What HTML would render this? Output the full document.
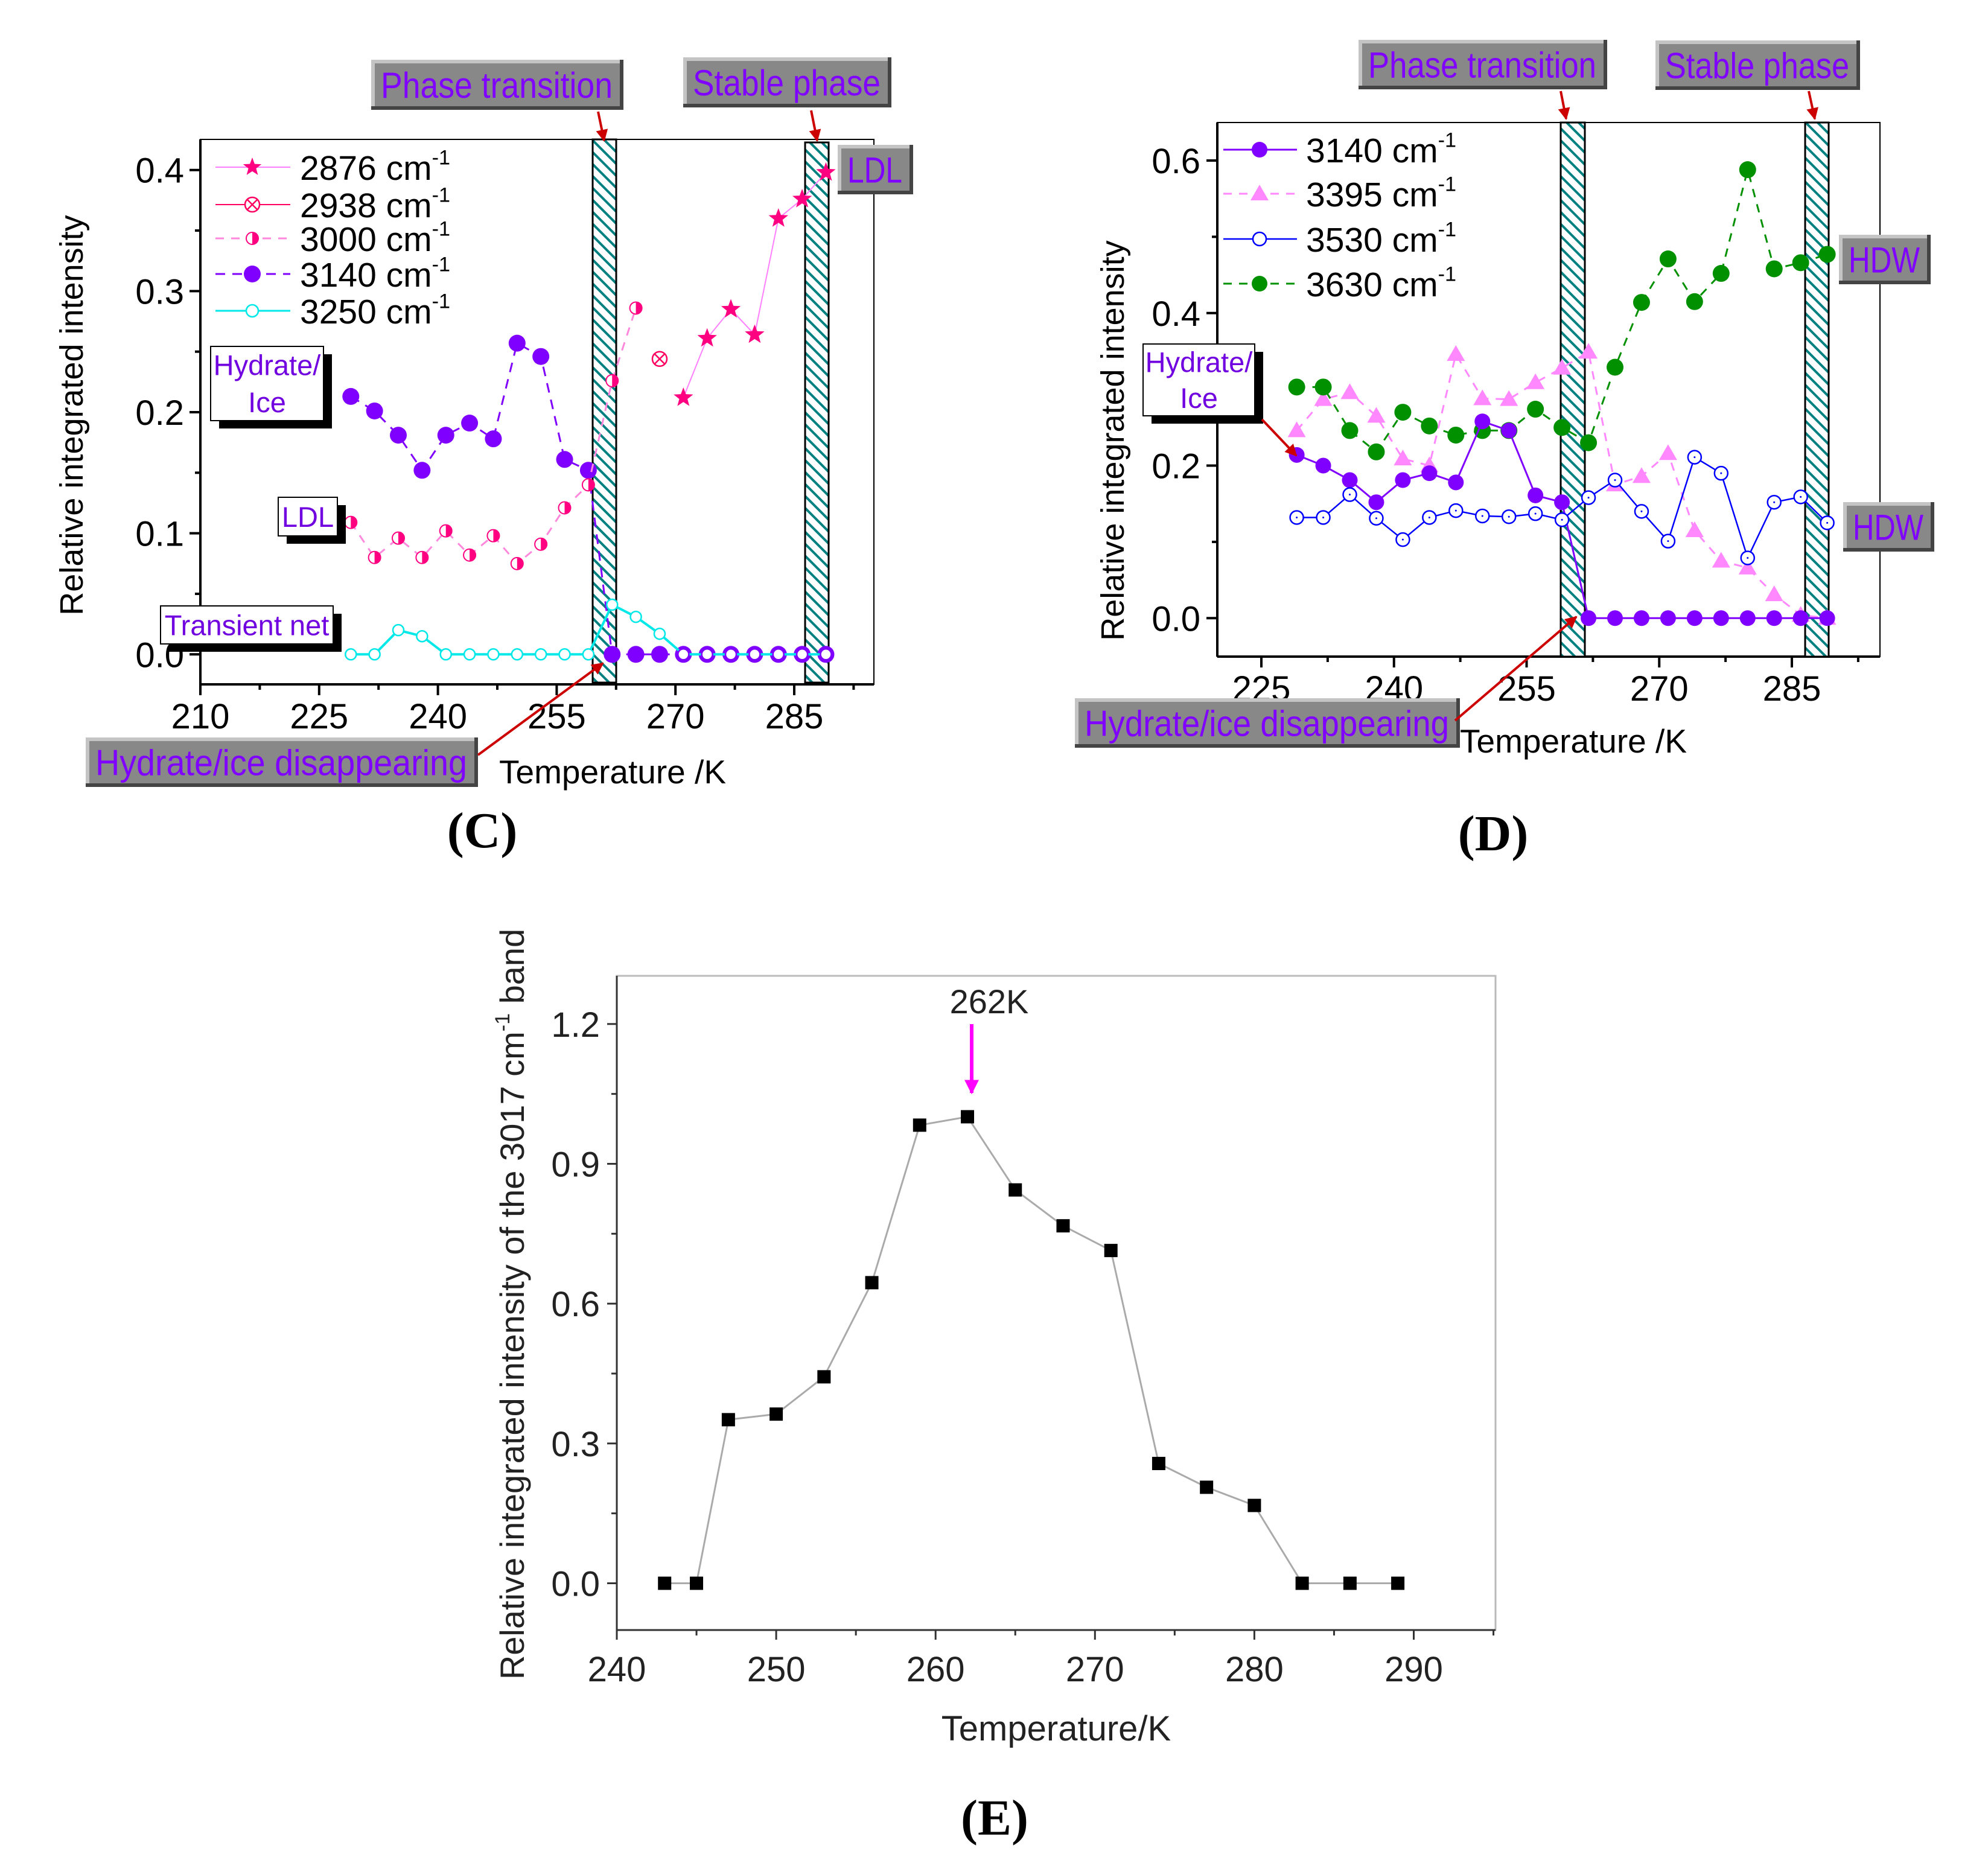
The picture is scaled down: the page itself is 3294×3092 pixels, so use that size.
<!DOCTYPE html>
<html><head><meta charset="utf-8">
<style>
html,body{margin:0;padding:0;background:#fff;}
svg{display:block;font-family:"Liberation Sans",Arial,sans-serif;}
</style></head>
<body>
<svg id="fig" width="3294" height="3092" viewBox="0 0 3294 3092" xmlns="http://www.w3.org/2000/svg">
<defs>
<pattern id="hatch" patternUnits="userSpaceOnUse" width="14" height="14" patternTransform="rotate(45)">
<rect width="14" height="14" fill="#fff"/>
<rect x="0" y="0" width="14" height="4" fill="#008080"/>
</pattern>
<marker id="arr" viewBox="0 0 10 10" refX="9" refY="5" markerWidth="5" markerHeight="5" orient="auto"><path d="M0,0 L10,5 L0,10 z" fill="#cc0000"/></marker>
<marker id="arrm" viewBox="0 0 10 10" refX="9" refY="5" markerWidth="4" markerHeight="4" orient="auto"><path d="M0,0 L10,5 L0,10 z" fill="#ff00ff"/></marker>
</defs>
<g id="panelC"></g>
<g id="panelD"></g>
<g id="panelE"></g>
</svg>
<script>
// ---------- Data ----------
const tempsC = [229,232,235,238,241,244,247,250,253,256,259,262,265,268,271,274,277,280,283,286,289];
const c3140 = [0.213,0.201,0.181,0.152,0.181,0.191,0.178,0.257,0.246,0.161,0.152,0,0,0,0,0,0,0,0,0,0];
const c3000 = [0.109,0.080,0.096,0.080,0.102,0.082,0.098,0.075,0.091,0.121,0.140,0.226,0.286];
const c2938T = [268];
const c2938 = [0.244];
const c2876T = [271,274,277,280,283,286,289];
const c2876 = [0.212,0.261,0.285,0.264,0.360,0.376,0.398];
const c3250 = [0,0,0.020,0.015,0,0,0,0,0,0,0,0.041,0.031,0.017,0,0,0,0,0,0,0];
const tickXC = [210,225,240,255,270,285];
const tickYC = ["0.0","0.1","0.2","0.3","0.4"];

const tempsD = [229,232,235,238,241,244,247,250,253,256,259,262,265,268,271,274,277,280,283,286,289];
const d3140 = [0.214,0.200,0.181,0.152,0.181,0.190,0.178,0.258,0.246,0.161,0.152,0,0,0,0,0,0,0,0,0,0];
const d3395 = [0.246,0.287,0.296,0.265,0.209,0.200,0.346,0.288,0.287,0.309,0.328,0.349,0.175,0.186,0.216,0.115,0.075,0.066,0.031,0.004,0];
const d3530 = [0.132,0.132,0.162,0.131,0.103,0.132,0.141,0.134,0.133,0.137,0.129,0.158,0.181,0.140,0.101,0.211,0.190,0.079,0.152,0.159,0.125];
const d3630 = [0.303,0.303,0.246,0.218,0.270,0.252,0.240,0.246,0.246,0.274,0.250,0.230,0.329,0.414,0.471,0.415,0.452,0.588,0.458,0.466,0.477];
const tickXD = [225,240,255,270,285];
const tickYD = ["0.0","0.2","0.4","0.6"];

const tempsE = [243,245,247,250,253,256,259,262,265,268,271,274,277,280,283,286,289];
const eVals = [0,0,0.351,0.363,0.443,0.645,0.983,1.001,0.844,0.767,0.714,0.257,0.206,0.167,0,0,0];
const tickXE = [240,250,260,270,280,290];
const tickYE = ["0.0","0.3","0.6","0.9","1.2"];

// ---------- helpers ----------
const NS="http://www.w3.org/2000/svg";
function el(parent,tag,attrs,text){const e=document.createElementNS(NS,tag);for(const k in attrs)e.setAttribute(k,attrs[k]);if(text!==undefined)e.textContent=text;parent.appendChild(e);return e;}
function linScale(d0,d1,r0,r1){return v=>r0+(v-d0)*(r1-r0)/(d1-d0);}
function polyline(g,xs,ys,stroke,w,dash){let p=xs.map((x,i)=>x.toFixed(1)+","+ys[i].toFixed(1)).join(" ");const e=el(g,"polyline",{points:p,fill:"none",stroke:stroke,"stroke-width":w});if(dash)e.setAttribute("stroke-dasharray",dash);return e;}
function star(cx,cy,r){let pts=[];for(let i=0;i<10;i++){const a=-Math.PI/2+i*Math.PI/5;const rr=i%2?r*0.42:r;pts.push((cx+rr*Math.cos(a)).toFixed(1)+","+(cy+rr*Math.sin(a)).toFixed(1));}return pts.join(" ");}
function grayBox(g,x0,y0,x1,y1,text,fs,name){
  const b=el(g,"g",{});
  
  
  el(b,"rect",{x:x0,y:y0,width:x1-x0,height:y1-y0,fill:"#444"});
  el(b,"rect",{x:x0,y:y0,width:x1-x0-6,height:y1-y0-6,fill:"#c4c4c4"});
  el(b,"rect",{x:x0+6,y:y0+6,width:x1-x0-12,height:y1-y0-12,fill:"#888"});
  el(b,"text",{x:x0+16,y:(y0+y1)/2+fs*0.36,"font-size":fs,fill:"#8000ff",textLength:x1-x0-34,lengthAdjust:"spacingAndGlyphs"},text);
}
function whiteBox(g,x0,y0,x1,y1,lines,fs,name){
  const b=el(g,"g",{});
  
  
  el(b,"rect",{x:x0+14,y:y0+13,width:x1-x0,height:y1-y0,fill:"#000"});
  el(b,"rect",{x:x0,y:y0,width:x1-x0,height:y1-y0,fill:"#fff",stroke:"#000","stroke-width":2});
  const n=lines.length,h=(y1-y0)/n;
  lines.forEach((t,i)=>el(b,"text",{x:(x0+x1)/2,y:y0+h*i+h/2+fs*0.36,"font-size":fs,fill:"#7000e0","text-anchor":"middle"},t));
}
function arrow(g,x1,y1,x2,y2,name){const a=el(g,"line",{x1,y1,x2,y2,stroke:"#cc0000","stroke-width":4,"marker-end":"url(#arr)"});}
function band(g,x0,x1,y0,y1,name){const r=el(g,"rect",{x:x0,y:y0,width:x1-x0,height:y1-y0,fill:"url(#hatch)",stroke:"#000","stroke-width":3});}
function cmLabel(g,x,y,num,fs){const t=el(g,"text",{x,y,"font-size":fs,fill:"#000"});t.appendChild(document.createTextNode(num+" cm"));el(t,"tspan",{"font-size":fs*0.6,dy:-fs*0.45},"-1");return t;}

// ---------- Panel C ----------
(function(){
const g=document.getElementById("panelC");
const L=332,R=1448,T=231,B=1134;
const x=linScale(210,285,332,1316), y=linScale(0,0.4,1084.3,281.7);
const fr=el(g,"rect",{x:L,y:T,width:R-L,height:B-T,fill:"none",stroke:"#000","stroke-width":2});

el(g,"line",{x1:L,y1:T,x2:L,y2:B,stroke:"#000","stroke-width":4});
el(g,"line",{x1:L,y1:B,x2:R,y2:B,stroke:"#000","stroke-width":4});
for(let v=210;v<=295;v+=7.5){const px=x(v);if(px>R)break;const maj=(v-210)%15===0;el(g,"line",{x1:px,y1:B,x2:px,y2:B+(maj?18:9),stroke:"#000","stroke-width":4});}
tickXC.forEach(v=>{const t=el(g,"text",{x:x(v),y:1207,"font-size":58,"text-anchor":"middle"},String(v));});
for(let v=-0.05;v<=0.42;v+=0.05){const py=y(v);if(py<T||py>B)continue;const maj=Math.abs(Math.round(v*10)-v*10)<0.01;el(g,"line",{x1:L,y1:py,x2:L-(maj?18:9),y2:py,stroke:"#000","stroke-width":4});}
tickYC.forEach(s=>{const t=el(g,"text",{x:305,y:y(parseFloat(s))+21,"font-size":58,"text-anchor":"end"},s);});
const yt=el(g,"text",{x:0,y:0,"font-size":54,"text-anchor":"middle",transform:"translate(137,688) rotate(-90)"},"Relative integrated intensity");

const xt=el(g,"text",{x:827,y:1298,"font-size":55},"Temperature /K");

band(g,982,1021,231,1131,'phase-transition-band');
band(g,1334,1373,236,1131,'stable-phase-band');
const xs=tempsC.map(x);
polyline(g,xs,c3140.map(y),"#8000ff",3,"16,12");
c3140.forEach((v,i)=>{const c=el(g,"circle",{cx:xs[i],cy:y(v),r:14,fill:"#8000ff"});});
polyline(g,c3000.map((v,i)=>x(tempsC[i])),c3000.map(y),"#ff88dd",3,"14,12");
c3000.forEach((v,i)=>{const cx=x(tempsC[i]),cy=y(v);const m=el(g,"g",{});el(m,"circle",{cx,cy,r:10,fill:"#fff",stroke:"#ff0080","stroke-width":2});el(m,"path",{d:`M${cx},${cy-10} A10,10 0 0 1 ${cx},${cy+10} Z`,fill:"#ff0080"});});
c2938.forEach((v,i)=>{const cx=x(c2938T[i]),cy=y(v);const m=el(g,"g",{});el(m,"circle",{cx,cy,r:12,fill:"none",stroke:"#ff0060","stroke-width":2.5});el(m,"path",{d:`M${cx-8},${cy-8}L${cx+8},${cy+8}M${cx+8},${cy-8}L${cx-8},${cy+8}`,stroke:"#ff0060","stroke-width":2.5});});
polyline(g,c2876T.map(x),c2876.map(y),"#ff80ff",2);
c2876.forEach((v,i)=>{const s=el(g,"polygon",{points:star(x(c2876T[i]),y(v),17),fill:"#ff0080"});});
polyline(g,xs,c3250.map(y),"#00e8e8",4);
c3250.forEach((v,i)=>{const c=el(g,"circle",{cx:xs[i],cy:y(v),r:9,fill:"#fff",stroke:i>=14?"#8000ff":"#00e8e8","stroke-width":2.5});});
const lg=el(g,"g",{});
const ly=[277,339,395,454,515];
el(lg,"line",{x1:357,y1:ly[0],x2:481,y2:ly[0],stroke:"#ff80ff","stroke-width":2});el(lg,"polygon",{points:star(418,ly[0],16),fill:"#ff0080"});
el(lg,"line",{x1:357,y1:ly[1],x2:481,y2:ly[1],stroke:"#ff0060","stroke-width":2});el(lg,"circle",{cx:418,cy:ly[1],r:12,fill:"#fff",stroke:"#ff0060","stroke-width":2.5});el(lg,"path",{d:`M410,${ly[1]-8}L426,${ly[1]+8}M426,${ly[1]-8}L410,${ly[1]+8}`,stroke:"#ff0060","stroke-width":2.5});
el(lg,"line",{x1:357,y1:ly[2],x2:481,y2:ly[2],stroke:"#ff88dd","stroke-width":3,"stroke-dasharray":"14,12"});el(lg,"circle",{cx:418,cy:ly[2],r:10,fill:"#fff",stroke:"#ff0080","stroke-width":2});el(lg,"path",{d:`M418,${ly[2]-10} A10,10 0 0 1 418,${ly[2]+10} Z`,fill:"#ff0080"});
el(lg,"line",{x1:357,y1:ly[3],x2:481,y2:ly[3],stroke:"#8000ff","stroke-width":3,"stroke-dasharray":"16,12"});el(lg,"circle",{cx:418,cy:ly[3],r:14,fill:"#8000ff"});
el(lg,"line",{x1:357,y1:ly[4],x2:481,y2:ly[4],stroke:"#00e8e8","stroke-width":3});el(lg,"circle",{cx:418,cy:ly[4],r:10,fill:"#fff",stroke:"#00e8e8","stroke-width":2.5});
["2876","2938","3000","3140","3250"].forEach((n,i)=>cmLabel(lg,497,ly[i]+21,n,57));
grayBox(g,615,99,1033,182,"Phase transition",60,'phase-transition-label');
grayBox(g,1132,95,1477,178,"Stable phase",60,'stable-phase-label');
grayBox(g,1388,240,1513,322,"LDL",60,'ldl-label-right');
grayBox(g,142,1222,792,1304,"Hydrate/ice disappearing",60,'hydrate-ice-disappearing-label');
whiteBox(g,349,574,536,697,["Hydrate/","Ice"],47,'hydrate-ice-label');
whiteBox(g,461,824,559,888,["LDL"],47,'ldl-label');
whiteBox(g,266,1004,552,1067,["Transient net"],47,'transient-net-label');
arrow(g,991,185,1001,233,'phase-arrow');
arrow(g,1344,183,1354,233,'stable-arrow');
arrow(g,792,1251,999,1099,'disappearing-arrow');
const pl=el(g,"text",{x:799,y:1404,"font-size":84,"font-weight":"bold","font-family":"Liberation Serif,serif","text-anchor":"middle"},"(C)");

})();

// ---------- Panel D ----------
(function(){
const g=document.getElementById("panelD");
const L=2017,R=3115,T=203,B=1088;
const x=linScale(225,285,2090,2969), y=linScale(0,0.6,1024.3,266);
const fr=el(g,"rect",{x:L,y:T,width:R-L,height:B-T,fill:"none",stroke:"#000","stroke-width":2});

el(g,"line",{x1:L,y1:T,x2:L,y2:B,stroke:"#000","stroke-width":4});
el(g,"line",{x1:L,y1:B,x2:R,y2:B,stroke:"#000","stroke-width":4});
for(let v=217.5;v<=300;v+=7.5){const px=x(v);if(px<L||px>R)continue;const maj=(v-225)%15===0;el(g,"line",{x1:px,y1:B,x2:px,y2:B+(maj?18:9),stroke:"#000","stroke-width":4});}
tickXD.forEach(v=>{const t=el(g,"text",{x:x(v),y:1161,"font-size":58,"text-anchor":"middle"},String(v));});
for(let v=-0.1;v<=0.65;v+=0.1){const py=y(v);if(py<T||py>B)continue;const maj=Math.abs(Math.round(v*5)-v*5)<0.01;el(g,"line",{x1:L,y1:py,x2:L-(maj?18:9),y2:py,stroke:"#000","stroke-width":4});}
tickYD.forEach(s=>{const t=el(g,"text",{x:1989,y:y(parseFloat(s))+21,"font-size":58,"text-anchor":"end"},s);});
const yt=el(g,"text",{x:0,y:0,"font-size":54,"text-anchor":"middle",transform:"translate(1862,730) rotate(-90)"},"Relative integrated intensity");

const xt=el(g,"text",{x:2419,y:1247,"font-size":55},"Temperature /K");

band(g,2586,2626,203,1088,'phase-transition-band');
band(g,2991,3030,203,1088,'stable-phase-band');
const xs=tempsD.map(x);
polyline(g,xs,d3395.map(y),"#ff88ff",3,"14,12");
d3395.forEach((v,i)=>{const cx=xs[i],cy=y(v);const p=el(g,"polygon",{points:`${cx},${cy-15} ${cx+15},${cy+11} ${cx-15},${cy+11}`,fill:"#ff88ff"});});
polyline(g,xs,d3630.map(y),"#009000",3,"14,12");
d3630.forEach((v,i)=>{const c=el(g,"circle",{cx:xs[i],cy:y(v),r:14,fill:"#009000"});});
polyline(g,xs,d3140.map(y),"#8000ff",3);
d3140.forEach((v,i)=>{const c=el(g,"circle",{cx:xs[i],cy:y(v),r:13,fill:"#8000ff"});});
polyline(g,xs,d3530.map(y),"#0000ff",2.5);
d3530.forEach((v,i)=>{const c=el(g,"circle",{cx:xs[i],cy:y(v),r:11,fill:"#fff",stroke:"#0000ff","stroke-width":2.5});el(g,"circle",{cx:xs[i],cy:y(v),r:1.5,fill:"#0000ff"});});
const lg=el(g,"g",{});
const ly=[248,321,396,470];
el(lg,"line",{x1:2027,y1:ly[0],x2:2149,y2:ly[0],stroke:"#8000ff","stroke-width":3});el(lg,"circle",{cx:2087,cy:ly[0],r:13,fill:"#8000ff"});
el(lg,"line",{x1:2027,y1:ly[1],x2:2149,y2:ly[1],stroke:"#ff88ff","stroke-width":3,"stroke-dasharray":"14,12"});el(lg,"polygon",{points:`2087,${ly[1]-15} 2102,${ly[1]+11} 2072,${ly[1]+11}`,fill:"#ff88ff"});
el(lg,"line",{x1:2027,y1:ly[2],x2:2149,y2:ly[2],stroke:"#0000ff","stroke-width":2.5});el(lg,"circle",{cx:2087,cy:ly[2],r:11,fill:"#fff",stroke:"#0000ff","stroke-width":2.5});
el(lg,"line",{x1:2027,y1:ly[3],x2:2149,y2:ly[3],stroke:"#009000","stroke-width":3,"stroke-dasharray":"14,12"});el(lg,"circle",{cx:2087,cy:ly[3],r:13,fill:"#009000"});
["3140","3395","3530","3630"].forEach((n,i)=>cmLabel(lg,2164,ly[i]+21,n,57));
grayBox(g,2251,66,2663,148,"Phase transition",60,'phase-transition-label');
grayBox(g,2743,67,3082,149,"Stable phase",60,'stable-phase-label');
grayBox(g,3047,389,3199,471,"HDW",60,'hdw-label-upper');
grayBox(g,3054,832,3205,914,"HDW",60,'hdw-label-lower');
grayBox(g,1781,1157,2419,1239,"Hydrate/ice disappearing",60,'hydrate-ice-disappearing-label');
whiteBox(g,1894,570,2079,689,["Hydrate/","Ice"],47,'hydrate-ice-label');
arrow(g,2586,151,2595,197,'phase-arrow');
arrow(g,2997,151,3007,197,'stable-arrow');
arrow(g,2091,695,2148,755,'hydrate-arrow');
arrow(g,2411,1194,2612,1022,'disappearing-arrow');
const pl=el(g,"text",{x:2474,y:1409,"font-size":84,"font-weight":"bold","font-family":"Liberation Serif,serif","text-anchor":"middle"},"(D)");

})();

// ---------- Panel E ----------
(function(){
const g=document.getElementById("panelE");
const L=1022,R=2478,T=1617,B=2701;
const x=linScale(240,290,1022,2342.5), y=linScale(0,1.2,2623.5,1696.8);
const fr=el(g,"rect",{x:L,y:T,width:R-L,height:B-T,fill:"none",stroke:"#bbb","stroke-width":3});

el(g,"line",{x1:L,y1:T,x2:L,y2:B,stroke:"#333","stroke-width":3});
el(g,"line",{x1:L,y1:B,x2:R,y2:B,stroke:"#333","stroke-width":3});
for(let v=240;v<=295;v+=5){const px=x(v);if(px>R+1)break;const maj=v%10===0;el(g,"line",{x1:px,y1:B,x2:px,y2:B+(maj?16:9),stroke:"#333","stroke-width":3});}
tickXE.forEach(v=>{const t=el(g,"text",{x:x(v),y:2786,"font-size":58,"text-anchor":"middle",fill:"#222"},String(v));});
for(let v=0;v<=1.3;v+=0.15){const py=y(v);if(py<T)continue;const maj=Math.abs(Math.round(v/0.3)-v/0.3)<0.01;el(g,"line",{x1:L,y1:py,x2:L-(maj?16:9),y2:py,stroke:"#333","stroke-width":3});}
tickYE.forEach(s=>{const t=el(g,"text",{x:994,y:y(parseFloat(s))+21,"font-size":58,"text-anchor":"end",fill:"#222"},s);});
const yt=el(g,"text",{x:0,y:0,"font-size":56,"text-anchor":"middle",fill:"#222",transform:"translate(868,2161) rotate(-90)"});

yt.appendChild(document.createTextNode("Relative integrated intensity of the 3017 cm"));
el(yt,"tspan",{"font-size":34,dy:-24},"-1");
el(yt,"tspan",{dy:24}," band");
const xt=el(g,"text",{x:1750,y:2884,"font-size":58,"text-anchor":"middle",fill:"#222"},"Temperature/K");

polyline(g,tempsE.map(x),eVals.map(y),"#aaa",3);
eVals.forEach((v,i)=>{const r=el(g,"rect",{x:x(tempsE[i])-11,y:y(v)-11,width:22,height:22,fill:"#000"});});
const an=el(g,"text",{x:1639,y:1679,"font-size":56,"text-anchor":"middle",fill:"#222"},"262K");

const ar=el(g,"line",{x1:1610,y1:1697,x2:1610,y2:1811,stroke:"#ff00ff","stroke-width":6,"marker-end":"url(#arrm)"});

const pl=el(g,"text",{x:1648,y:3040,"font-size":84,"font-weight":"bold","font-family":"Liberation Serif,serif","text-anchor":"middle"},"(E)");

})();
</script>
</body></html>
